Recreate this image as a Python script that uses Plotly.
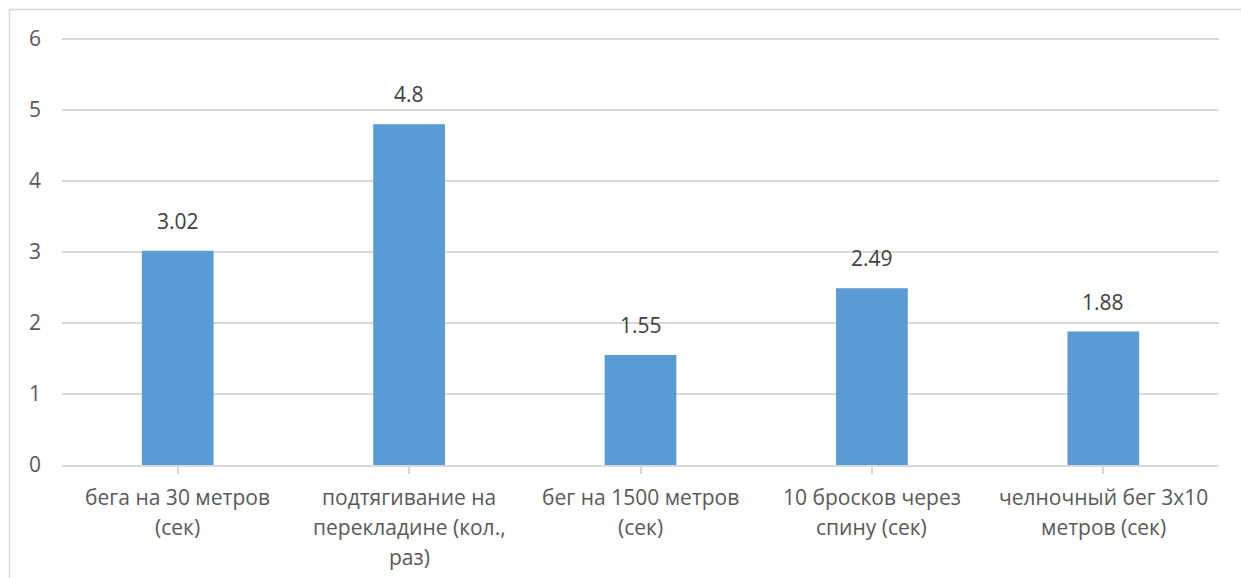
import plotly.graph_objects as go

categories = [
    "бега на 30 метров\n(сек)",
    "подтягивание на\nперекладине (кол.,\nраз)",
    "бег на 1500 метров\n(сек)",
    "10 бросков через\nспину (сек)",
    "челночный бег 3x10\nметров (сек)",
]
values = [3.02, 4.8, 1.55, 2.49, 1.88]
y_ticks = [0, 1, 2, 3, 4, 5, 6]

FONT = "Open Sans"
TXT = "#595959"
GRID = "#d9d9d9"

W, H = 1241, 578
L, R, T, B = 62, 22, 37, 113
pw, ph = W - L - R, H - T - B

fig = go.Figure()
fig.add_trace(go.Bar(
    x=list(range(len(categories))), y=values,
    marker=dict(color="#5b9bd5", line=dict(width=0)),
    width=0.31, hoverinfo="skip",
))

annotations = []
for i, v in enumerate(values):
    annotations.append(dict(x=i, y=v, xref="x", yref="y", text=f"{v:g}", showarrow=False,
                            yanchor="bottom", yshift=14,
                            font=dict(family=FONT, size=21, color="#404040")))
for i, c in enumerate(categories):
    for j, line in enumerate(c.split("\n")):
        annotations.append(dict(x=i, y=0, xref="x", yref="paper", text=line, showarrow=False,
                                yanchor="middle", yshift=-32 - 30 * j,
                                font=dict(family=FONT, size=21, color=TXT)))

# outer chart frame (partially cropped in the reference)
x0 = (9.5 - L) / pw
y1 = (H - B - 9.5) / ph
shapes = [dict(type="rect", xref="paper", yref="paper", x0=x0, x1=1.05, y0=-0.4, y1=y1,
               line=dict(color=GRID, width=1.5), fillcolor="rgba(0,0,0,0)", layer="below")]

fig.update_layout(
    width=W, height=H,
    margin=dict(l=L, r=R, t=T, b=B),
    paper_bgcolor="white", plot_bgcolor="white",
    showlegend=False,
    bargap=0.69,
    annotations=annotations,
    shapes=shapes,
    font=dict(family=FONT, size=21, color=TXT),
)
fig.update_xaxes(
    range=[-0.5, len(categories) - 0.5],
    tickvals=list(range(len(categories))), ticktext=[""] * len(categories),
    tickson="boundaries", ticks="outside", ticklen=7, tickcolor=GRID, tickwidth=1.5,
    showline=True, linecolor=GRID, linewidth=1.5, showgrid=False, zeroline=False,
)
fig.update_yaxes(
    range=[0, 6.03], tickvals=y_ticks, ticks="", ticklabelstandoff=20,
    showgrid=True, gridcolor=GRID, gridwidth=1.5, zeroline=False, showline=False,
    tickfont=dict(family=FONT, size=21, color=TXT),
)

fig.write_html("out.html")
